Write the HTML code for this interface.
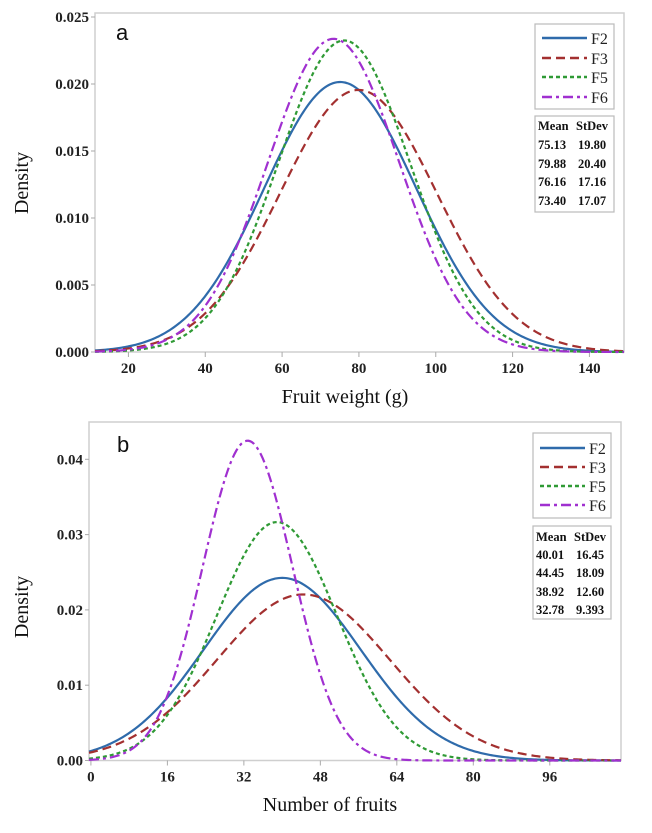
<!DOCTYPE html>
<html><head><meta charset="utf-8"><style>
html,body{margin:0;padding:0;background:#fff;}
svg{display:block;font-family:"Liberation Serif",serif;}
</style></head><body>
<svg id="chart" width="652" height="833" viewBox="0 0 652 833" xmlns="http://www.w3.org/2000/svg"></svg>
<script>
const seriesNames = ["F2","F3","F5","F6"];
const weightMeans = [75.13, 79.88, 76.16, 73.40];
const weightSds = [19.80, 20.40, 17.16, 17.07];
const weightSdLabels = ["19.80","20.40","17.16","17.07"];
const fruitMeans = [40.01, 44.45, 38.92, 32.78];
const fruitSds = [16.45, 18.09, 12.60, 9.393];
const fruitSdLabels = ["16.45","18.09","12.60","9.393"];
const weightXTicks = [20,40,60,80,100,120,140];
const weightYTicks = [0,0.005,0.010,0.015,0.020,0.025];
const weightYLabels = ["0.000","0.005","0.010","0.015","0.020","0.025"];
const fruitXTicks = [0,16,32,48,64,80,96];
const fruitYTicks = [0,0.01,0.02,0.03,0.04];
const fruitYLabels = ["0.00","0.01","0.02","0.03","0.04"];

const colors = ["#2f6bab","#a33030","#2f9a35","#a030d0"];
const dashes = ["", "9,5", "4,3", "10,4,3,4"];
const NS = "http://www.w3.org/2000/svg";
const svg = document.getElementById("chart");
function mk(tag, attrs, parent){const e=document.createElementNS(NS,tag);for(const k in attrs)e.setAttribute(k,attrs[k]);(parent||svg).appendChild(e);return e;}
function pdf(x,m,s){return Math.exp(-0.5*((x-m)/s)**2)/(s*Math.sqrt(2*Math.PI));}

function panel(cfg){
  const g = mk("g",{});
  
  
  const X = v => cfg.x0 + (v-cfg.xmin)/(cfg.xmax-cfg.xmin)*(cfg.x1-cfg.x0);
  const Y = v => cfg.yb + (v-0)/(cfg.ymax)*(cfg.yt-cfg.yb);
  const frame = mk("rect",{x:cfg.x0,y:cfg.top,width:cfg.x1-cfg.x0,height:cfg.yb-cfg.top,fill:"none",stroke:"#cfcfcf","stroke-width":1.5},g);
  
  
  cfg.yTicks.forEach((t,i)=>{
    const y=Y(t);
    mk("line",{x1:cfg.x0-4,x2:cfg.x0,y1:y,y2:y,stroke:"#aaa"},g);
    const tx=mk("text",{x:cfg.x0-6,y:y+5,"text-anchor":"end","font-size":15,"font-weight":"bold",fill:"#222"},g);
    tx.textContent=cfg.yLabels[i];
    
    
  });
  cfg.xTicks.forEach(t=>{
    const x=X(t);
    mk("line",{x1:x,x2:x,y1:cfg.yb,y2:cfg.yb+5,stroke:"#aaa"},g);
    const tx=mk("text",{x:x,y:cfg.yb+21,"text-anchor":"middle","font-size":15,"font-weight":"bold",fill:"#222"},g);
    tx.textContent=t;
    
    
  });
  cfg.means.forEach((m,i)=>{
    let d="";
    const n=300;
    for(let k=0;k<=n;k++){
      const v=cfg.xmin+(cfg.xmax-cfg.xmin)*k/n;
      d+=(k?"L":"M")+X(v).toFixed(2)+","+Y(pdf(v,m,cfg.sds[i])).toFixed(2);
    }
    const p=mk("path",{d:d,fill:"none",stroke:colors[i],"stroke-width":2.2},g);
    if(dashes[i])p.setAttribute("stroke-dasharray",dashes[i]);
    
    
  });
  const lt=mk("text",{x:cfg.letterX,y:cfg.letterY,"font-size":22,"font-family":"Liberation Sans, sans-serif",fill:"#111"},g);
  lt.textContent=cfg.letter;
  
  
  const xt=mk("text",{x:cfg.xTitleX,y:cfg.xTitleY,"text-anchor":"middle","font-size":20,fill:"#111"},g);
  xt.textContent=cfg.xTitle;
  
  
  const yt=mk("text",{x:0,y:0,"text-anchor":"middle","font-size":20,fill:"#111",transform:`translate(28,${cfg.yTitleY}) rotate(-90)`},g);
  yt.textContent="Density";
  
  
  const L=cfg.leg;
  const lb=mk("rect",{x:L.x,y:L.y,width:L.w,height:L.h,fill:"#fff",stroke:"#bbb","stroke-width":1.2},g);
  
  
  seriesNames.forEach((s,i)=>{
    const y=L.rows[i];
    const ln=mk("line",{x1:L.x+7,x2:L.x+52,y1:y,y2:y,stroke:colors[i],"stroke-width":2.5},g);
    if(dashes[i])ln.setAttribute("stroke-dasharray",dashes[i]);
    
    
    const t=mk("text",{x:L.x+56,y:y+6,"font-size":16,fill:"#222"},g);
    t.textContent=s;
    
    
  });
  const S=cfg.stats;
  const sb=mk("rect",{x:S.x,y:S.y,width:S.w,height:S.h,fill:"#fff",stroke:"#bbb","stroke-width":1.2},g);
  
  
  const rows=[["Mean","StDev"]].concat(cfg.means.map((m,i)=>[m.toFixed(2),cfg.sdLabels[i]]));
  rows.forEach((r,i)=>{
    const y=S.rows[i]+4;
    const a=mk("text",{x:S.x+3,y:y,"font-size":12.5,"font-weight":"bold",fill:"#111"},g);
    a.textContent=r[0];
    
    
    const b=mk("text",{x:S.x+(i?43:41),y:y,"font-size":12.5,"font-weight":"bold",fill:"#111"},g);
    b.textContent=r[1];
    
    
  });
}

panel({id:"fruit-weight",x0:95,x1:624,xmin:11.3,xmax:149,top:13,yb:352,yt:17,ymax:0.025,
  yTicks:weightYTicks,yLabels:weightYLabels,xTicks:weightXTicks,means:weightMeans,sds:weightSds,sdLabels:weightSdLabels,
  letter:"a",letterX:116,letterY:40,xTitle:"Fruit weight (g)",xTitleX:345,xTitleY:403,yTitleY:183,
  leg:{x:535,y:24,w:79,h:85,rows:[38,58,77,97]},
  stats:{x:535,y:116,w:79,h:96,rows:[126,145,164,182,201]}});
panel({id:"number-of-fruits",x0:89,x1:621,xmin:-0.4,xmax:110.9,top:422,yb:760.5,yt:459.3,ymax:0.04,
  yTicks:fruitYTicks,yLabels:fruitYLabels,xTicks:fruitXTicks,means:fruitMeans,sds:fruitSds,sdLabels:fruitSdLabels,
  letter:"b",letterX:117,letterY:452,xTitle:"Number of fruits",xTitleX:330,xTitleY:811,yTitleY:607,
  leg:{x:533,y:433,w:78,h:85,rows:[448,467,486,505]},
  stats:{x:533,y:526,w:78,h:93,rows:[537,555,573,592,610]}});
</script>
</body></html>
